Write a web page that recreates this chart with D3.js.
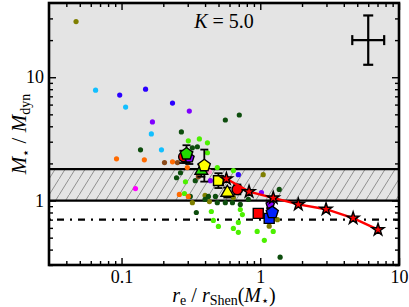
<!DOCTYPE html>
<html>
<head>
<meta charset="utf-8">
<script src="https://cdnjs.cloudflare.com/ajax/libs/d3/7.8.5/d3.min.js"></script>
<style>
html, body { margin: 0; padding: 0; background: #fff; }
svg { display: block; font-family: "Liberation Serif", "DejaVu Serif", serif; }
</style>
</head>
<body>
<div id="chart"></div>
<script>
// x = r_e / r_Shen(M*), y = M* / M_dyn
const xTicks = [0.1, 1, 10];
const yTicks = [1, 10];
const kValue = "5.0";

// reference lines
const grayFrom = 1;
const hatchTop = 1.8;
const dashLevel = 0.7;

// small points, one array per colour group: [x, y]
const oliveDots = [[0.047, 28.3], [0.324, 0.96], [0.40, 1.10], [0.43, 0.98], [0.64, 1.06], [1.05, 1.62], [1.16, 0.62], [1.33, 0.70]];
const cyanDots = [[0.065, 7.85], [0.107, 5.73], [0.164, 3.47], [0.194, 2.58]];
const blueDots = [[0.097, 7.16], [0.149, 8.0], [0.233, 6.17], [0.695, 1.62]];
const purpleDots = [[0.308, 5.32], [0.167, 4.34], [0.437, 1.45], [1.02, 1.16]];
const darkGreenDots = [[0.56, 4.5], [0.706, 4.94], [0.27, 3.6], [0.137, 2.58], [0.324, 2.68], [0.352, 2.73],
  [0.266, 1.68], [0.249, 1.53], [0.34, 1.45], [0.313, 1.08], [0.346, 0.80], [0.423, 1.08], [0.475, 1.08],
  [0.49, 0.96], [0.56, 0.96], [0.63, 0.96], [0.718, 0.93], [1.37, 1.23], [1.39, 0.347], [0.40, 1.02], [0.82, 1.02]];
const brightGreenDots = [[0.303, 3.05], [0.364, 3.16], [0.416, 2.94], [0.416, 2.44], [0.289, 1.42], [0.284, 1.14],
  [0.49, 1.85], [0.64, 1.75], [0.444, 0.815], [0.459, 0.69], [0.499, 0.617], [0.64, 0.594], [0.695, 0.552],
  [0.695, 0.665], [0.743, 0.77], [0.718, 0.846], [0.95, 0.562], [1.07, 0.476], [1.24, 0.562]];
const orangeDots = [[0.092, 2.18], [0.146, 2.14], [0.233, 2.06], [0.298, 1.85], [0.261, 1.12], [0.303, 1.08]];
const brownDots = [[0.204, 2.03], [0.253, 2.03], [0.358, 1.56]];
const magentaDots = [[0.126, 1.25]];
const pinkDots = [[0.43, 1.71]];

// binned samples (big symbols) with error in dex
const sampleX = [0.279, 0.308, 0.294, 0.376, 0.395, 0.499, 0.579, 0.683, 1.18, 0.967, 1.16, 1.22];
const sampleY = [2.26, 2.22, 2.39, 1.75, 1.92, 1.45, 1.16, 1.23, 0.93, 0.786, 0.716, 0.80];
const sampleErr = [0.05, 0.05, 0.07, 0.05, 0.13, 0.06, 0.04, 0.04, 0.03, 0.03, 0.03, 0.03];

// model track (red stars)
const starX = [0.57, 0.83, 1.24, 1.88, 2.98, 4.67, 7.06];
const starY = [1.50, 1.18, 1.05, 0.93, 0.85, 0.72, 0.58];

// typical error cross
const crossX = 6, crossY = 20, crossErrX = 0.115, crossErrY = 0.2;

const W = 409, H = 307;
const margin = {top: 3, right: 10, bottom: 42, left: 49};
const width = W - margin.left - margin.right;
const height = H - margin.top - margin.bottom;

const svg = d3.select("#chart").append("svg")
    .attr("width", W)
    .attr("height", H);

const defs = svg.append("defs");
defs.append("clipPath").attr("id", "clip")
    .append("rect").attr("width", width).attr("height", height);

const hatch = defs.append("pattern")
    .attr("id", "hatch")
    .attr("patternUnits", "userSpaceOnUse")
    .attr("width", 10)
    .attr("height", 16);
hatch.append("path")
    .attr("d", "M0,16 L10,0")
    .attr("stroke", "#7a7a7a")
    .attr("stroke-width", 0.8);

const g = svg.append("g").attr("transform", `translate(${margin.left},${margin.top})`);

const x = d3.scaleLog().domain([0.03, 10]).range([0, width]);
const y = d3.scaleLog().domain([0.3, 40]).range([height, 0]);

const plot = g.append("g").attr("clip-path", "url(#clip)");

// shaded regions
plot.append("rect")
    .attr("x", 0).attr("y", 0)
    .attr("width", width).attr("height", y(grayFrom))
    .attr("fill", "#e4e4e4");
plot.append("rect")
    .attr("x", 0).attr("y", y(hatchTop))
    .attr("width", width).attr("height", y(grayFrom) - y(hatchTop))
    .attr("fill", "url(#hatch)");

[grayFrom, hatchTop].forEach(v => {
    plot.append("line")
        .attr("x1", 0).attr("x2", width)
        .attr("y1", y(v)).attr("y2", y(v))
        .attr("stroke", "#000").attr("stroke-width", 2.2);
});
plot.append("line")
    .attr("x1", 0).attr("x2", width)
    .attr("y1", y(dashLevel)).attr("y2", y(dashLevel))
    .attr("stroke", "#000").attr("stroke-width", 2.4)
    .attr("stroke-dasharray", "2,6,7,6");

// small points
const dotGroups = [
    [oliveDots, "#7f7f00"],
    [cyanDots, "#12bfff"],
    [blueDots, "#2a00ff"],
    [purpleDots, "#7f00ff"],
    [darkGreenDots, "#0d4d0d"],
    [brightGreenDots, "#4cf000"],
    [orangeDots, "#ff6a00"],
    [brownDots, "#8a4a1a"],
    [magentaDots, "#ff00ff"],
    [pinkDots, "#ff99cc"]
];
dotGroups.forEach(([pts, col]) => {
    plot.append("g").selectAll("circle")
        .data(pts)
        .enter().append("circle")
        .attr("cx", d => x(d[0]))
        .attr("cy", d => y(d[1]))
        .attr("r", 2.6)
        .attr("fill", col);
});

// custom pentagon symbol
const symbolPentagon = {
    draw(ctx, size) {
        const r = Math.sqrt(size / 2.378);
        for (let i = 0; i < 5; i++) {
            const a = -Math.PI / 2 + i * 2 * Math.PI / 5;
            if (i === 0) ctx.moveTo(r * Math.cos(a), r * Math.sin(a));
            else ctx.lineTo(r * Math.cos(a), r * Math.sin(a));
        }
        ctx.closePath();
    }
};

const sampleShape = [d3.symbolCircle, symbolPentagon, symbolPentagon, d3.symbolTriangle, symbolPentagon,
    d3.symbolSquare, d3.symbolTriangle, d3.symbolCircle, symbolPentagon, d3.symbolSquare, d3.symbolSquare, symbolPentagon];
const sampleSize = [70, 60, 95, 70, 95, 95, 70, 85, 45, 100, 100, 95];
const sampleFill = ["#ff0000", "#8800ff", "#22dd00", "#22dd00", "#ffff00", "#ffff00", "#ffff00", "#ff0000",
    "#8800ff", "#ff0000", "#0022ff", "#0022ff"];

// error bars of samples
const samples = g.append("g");
sampleX.forEach((sx, i) => {
    const cx = x(sx);
    const yTop = y(sampleY[i] * Math.pow(10, sampleErr[i]));
    const yBot = y(sampleY[i] / Math.pow(10, sampleErr[i]));
    samples.append("line").attr("x1", cx).attr("x2", cx).attr("y1", yTop).attr("y2", yBot)
        .attr("stroke", "#000").attr("stroke-width", 1.8);
    [yTop, yBot].forEach(yy => {
        samples.append("line").attr("x1", cx - 4).attr("x2", cx + 4).attr("y1", yy).attr("y2", yy)
            .attr("stroke", "#000").attr("stroke-width", 1.8);
    });
});
sampleX.forEach((sx, i) => {
    samples.append("path")
        .attr("d", d3.symbol().type(sampleShape[i]).size(sampleSize[i])())
        .attr("transform", `translate(${x(sx)},${y(sampleY[i])})`)
        .attr("fill", sampleFill[i])
        .attr("stroke", "#000")
        .attr("stroke-width", 1.4);
});

// model track
const starPts = starX.map((v, i) => [v, starY[i]]);
g.append("path")
    .datum(starPts)
    .attr("d", d3.line().x(d => x(d[0])).y(d => y(d[1])))
    .attr("fill", "none")
    .attr("stroke", "#ff0000")
    .attr("stroke-width", 2.4);
g.append("g").selectAll("path")
    .data(starPts)
    .enter().append("path")
    .attr("d", d3.symbol().type(d3.symbolStar).size(46)())
    .attr("transform", d => `translate(${x(d[0])},${y(d[1])})`)
    .attr("fill", "#ff0000")
    .attr("stroke", "#000")
    .attr("stroke-width", 1.4);

// error cross
const cross = g.append("g").attr("stroke", "#000").attr("stroke-width", 2.2);
const cx0 = x(crossX), cy0 = y(crossY);
const cxL = x(crossX / Math.pow(10, crossErrX)), cxR = x(crossX * Math.pow(10, crossErrX));
const cyT = y(crossY * Math.pow(10, crossErrY)), cyB = y(crossY / Math.pow(10, crossErrY));
cross.append("line").attr("x1", cxL).attr("x2", cxR).attr("y1", cy0).attr("y2", cy0);
cross.append("line").attr("x1", cx0).attr("x2", cx0).attr("y1", cyT).attr("y2", cyB);
[cxL, cxR].forEach(v => cross.append("line").attr("x1", v).attr("x2", v).attr("y1", cy0 - 5).attr("y2", cy0 + 5));
[cyT, cyB].forEach(v => cross.append("line").attr("x1", cx0 - 5).attr("x2", cx0 + 5).attr("y1", v).attr("y2", v));

// axes (ticks pointing inwards on all four sides)
const minorX = [], minorY = [];
[0.01, 0.1, 1].forEach(dec => { for (let k = 2; k <= 9; k++) if (dec * k > 0.03) minorX.push(dec * k); });
[0.1, 1, 10].forEach(dec => { for (let k = 2; k <= 9; k++) if (dec * k >= 0.3 && dec * k < 40) minorY.push(dec * k); });
const fmt = d => String(d);

function styleAxis(sel) {
    sel.select(".domain").remove();
    sel.selectAll("line").attr("stroke-width", 1.4);
    sel.selectAll("text").attr("font-size", 18).attr("font-family", "Liberation Serif, DejaVu Serif, serif");
}

g.append("g").attr("transform", `translate(0,${height})`)
    .call(d3.axisBottom(x).tickValues(xTicks).tickFormat(fmt).tickSize(-7).tickPadding(5)).call(styleAxis);
g.append("g").attr("transform", `translate(0,${height})`)
    .call(d3.axisBottom(x).tickValues(minorX).tickFormat("").tickSize(-4)).call(styleAxis);
g.append("g")
    .call(d3.axisTop(x).tickValues(xTicks).tickFormat("").tickSize(-7)).call(styleAxis);
g.append("g")
    .call(d3.axisTop(x).tickValues(minorX).tickFormat("").tickSize(-4)).call(styleAxis);
g.append("g")
    .call(d3.axisLeft(y).tickValues(yTicks).tickFormat(fmt).tickSize(-7).tickPadding(5)).call(styleAxis);
g.append("g")
    .call(d3.axisLeft(y).tickValues(minorY).tickFormat("").tickSize(-4)).call(styleAxis);
g.append("g").attr("transform", `translate(${width},0)`)
    .call(d3.axisRight(y).tickValues(yTicks).tickFormat("").tickSize(-7)).call(styleAxis);
g.append("g").attr("transform", `translate(${width},0)`)
    .call(d3.axisRight(y).tickValues(minorY).tickFormat("").tickSize(-4)).call(styleAxis);

// frame
g.append("rect")
    .attr("width", width).attr("height", height)
    .attr("fill", "none").attr("stroke", "#000").attr("stroke-width", 2.6);

// K label
const kText = g.append("text")
    .attr("x", width / 2).attr("y", 25)
    .attr("text-anchor", "middle")
    .attr("font-size", 20);
kText.append("tspan").attr("font-style", "italic").text("K");
kText.append("tspan").text(" = " + kValue);

// x label
const xl = svg.append("text")
    .attr("x", margin.left + width / 2).attr("y", 302)
    .attr("text-anchor", "middle")
    .attr("font-size", 20);
xl.append("tspan").attr("font-style", "italic").text("r");
xl.append("tspan").attr("font-size", 14).attr("dy", 3).text("e");
xl.append("tspan").attr("dy", -3).text(" / ");
xl.append("tspan").attr("font-style", "italic").text("r");
xl.append("tspan").attr("font-size", 14).attr("dy", 3).text("Shen");
xl.append("tspan").attr("dy", -3).text("(");
xl.append("tspan").attr("font-style", "italic").text("M");
xl.append("tspan").attr("font-size", 13).attr("dy", 3).text("\u22C6");
xl.append("tspan").attr("dy", -3).text(")");

// y label
const yl = svg.append("text")
    .attr("transform", `translate(26,${margin.top + height / 2}) rotate(-90)`)
    .attr("text-anchor", "middle")
    .attr("font-size", 21);
yl.append("tspan").attr("font-style", "italic").text("M");
yl.append("tspan").attr("font-size", 13).attr("dy", 4).text("\u22C6");
yl.append("tspan").attr("dy", -4).text(" / ");
yl.append("tspan").attr("font-style", "italic").text("M");
yl.append("tspan").attr("font-size", 14).attr("dy", 4).text("dyn");
</script>
</body>
</html>
